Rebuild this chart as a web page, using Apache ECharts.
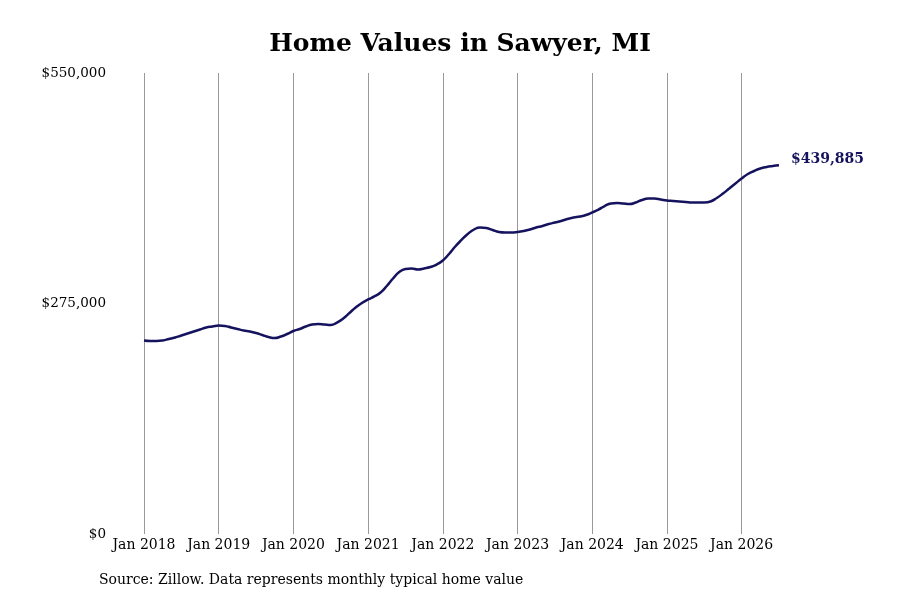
<!DOCTYPE html>
<html>
<head>
<meta charset="utf-8">
<title>Home Values in Sawyer, MI</title>
<script src="https://cdn.jsdelivr.net/npm/echarts@6/dist/echarts.min.js"></script>
<style>
  html, body { margin: 0; padding: 0; background: #fff; }
  #chart { width: 900px; height: 600px; }
</style>
</head>
<body>
<div id="chart"></div>
<script>
const startYear = 2018;
const monthCount = 103; // Jan 2018 .. Jul 2026

const values2018 = [230900, 230300, 230300, 230900, 232600, 234400, 236800, 239200, 241600, 244000, 246400, 247600];
const values2019 = [248800, 248200, 246400, 244600, 242800, 241600, 239800, 237400, 235000, 233800, 235600, 238600];
const values2020 = [242200, 244600, 247600, 249900, 250500, 249900, 249400, 252300, 257100, 263700, 270200, 275600];
const values2021 = [279800, 283400, 288100, 295900, 304800, 312600, 316200, 316800, 315600, 316800, 318500, 321500];
const values2022 = [326300, 334100, 343000, 350800, 357900, 363300, 365700, 365100, 362700, 360300, 359700, 359700];
const values2023 = [360300, 361500, 363300, 365700, 367500, 369800, 371600, 373400, 375800, 377600, 378800, 380600];
const values2024 = [383600, 387100, 391300, 394300, 394900, 394300, 393700, 395500, 398500, 400300, 400300, 399100];
const values2025 = [397900, 397300, 396700, 396100, 395500, 395500, 395500, 396700, 400900, 406200, 412200, 418200];
const values2026 = [424100, 429500, 433100, 436100, 437900, 439000, 439885];

const yTicks = [0, 275000, 550000];

const homeValues = [].concat(values2018, values2019, values2020, values2021,
  values2022, values2023, values2024, values2025, values2026);

const monthNames = ['Jan', 'Feb', 'Mar', 'Apr', 'May', 'Jun', 'Jul', 'Aug', 'Sep', 'Oct', 'Nov', 'Dec'];
const months = [];
for (let i = 0; i < monthCount; i++) {
  months.push(monthNames[i % 12] + ' ' + (startYear + Math.floor(i / 12)));
}

const isJan = (index) => index % 12 === 0;
const money = (v) => '$' + Math.round(v).toLocaleString('en-US');

const chart = echarts.init(document.getElementById('chart'));

chart.setOption({
  animation: false,
  backgroundColor: '#ffffff',
  textStyle: { fontFamily: 'DejaVu Serif' },
  title: {
    text: 'Home Values in Sawyer, MI',
    left: 455,
    top: 27,
    textAlign: 'center',
    textStyle: {
      fontFamily: 'DejaVu Serif',
      fontWeight: 'bold',
      fontSize: 25,
      color: '#000'
    }
  },
  grid: {
    left: 144,
    right: 121,
    top: 73,
    bottom: 66
  },
  xAxis: {
    type: 'category',
    data: months,
    boundaryGap: false,
    axisLine: { show: false },
    axisTick: { show: false },
    axisLabel: {
      interval: isJan,
      color: '#000',
      fontSize: 14,
      margin: 4,
      fontFamily: 'DejaVu Serif'
    },
    splitLine: {
      show: true,
      interval: isJan,
      lineStyle: { color: '#999999', width: 1 }
    }
  },
  yAxis: {
    type: 'value',
    min: yTicks[0],
    max: yTicks[yTicks.length - 1],
    interval: yTicks[1] - yTicks[0],
    axisLine: { show: false },
    axisTick: { show: false },
    splitLine: { show: false },
    axisLabel: {
      formatter: money,
      color: '#000',
      fontSize: 13.5,
      margin: 38,
      fontFamily: 'DejaVu Serif'
    }
  },
  series: [{
    type: 'line',
    data: homeValues,
    smooth: true,
    showSymbol: false,
    lineStyle: { color: '#15135e', width: 2.5 },
    itemStyle: { color: '#15135e' },
    endLabel: {
      show: true,
      formatter: (p) => money(p.value),
      color: '#15135e',
      fontWeight: 'bold',
      fontSize: 14,
      fontFamily: 'DejaVu Serif',
      distance: 12,
      offset: [0, -6]
    }
  }],
  graphic: [{
    type: 'text',
    left: 99,
    top: 573,
    style: {
      text: 'Source: Zillow. Data represents monthly typical home value',
      fill: '#000',
      fontSize: 14,
      fontFamily: 'DejaVu Serif'
    }
  }]
});

window.addEventListener('resize', () => chart.resize());
</script>
</body>
</html>
